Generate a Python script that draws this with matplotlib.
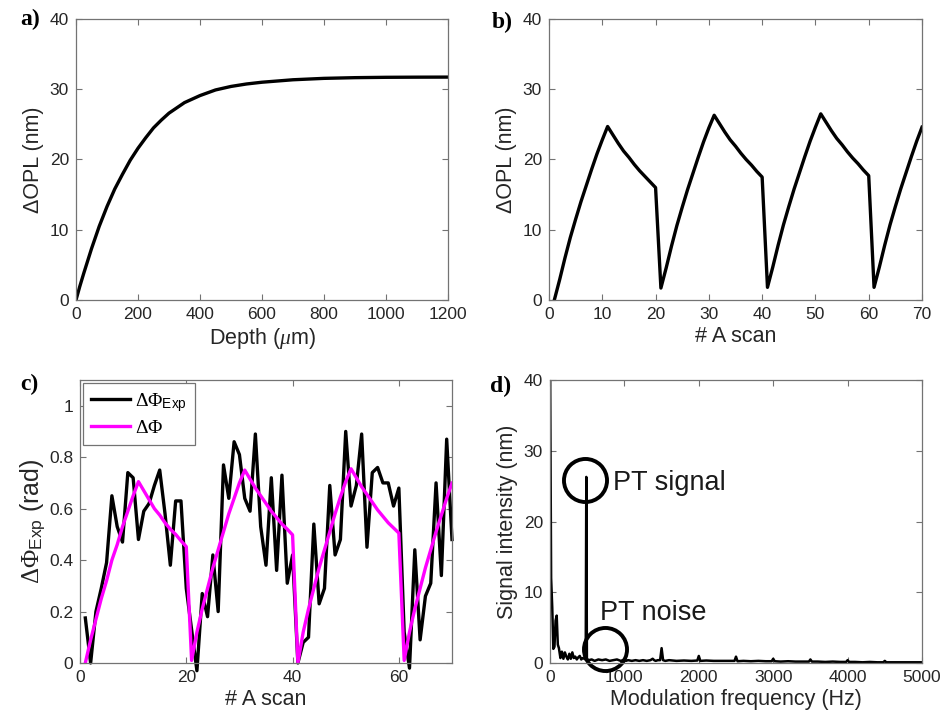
import numpy as np
import matplotlib
matplotlib.use("Agg")
from matplotlib import pyplot as plt

plt.rcParams['font.family'] = ['Liberation Sans', 'DejaVu Sans']
plt.rcParams['mathtext.fontset'] = 'custom'
plt.rcParams['mathtext.rm'] = 'Liberation Serif'
plt.rcParams['mathtext.it'] = 'Liberation Serif:italic'
plt.rcParams['mathtext.sf'] = 'Liberation Sans'

# panel a: OPL change vs depth
depth = [0, 12, 25, 50, 75, 100, 125, 150, 175, 200, 225, 250, 275, 300, 350,
         400, 450, 500, 550, 600, 700, 800, 900, 1000, 1100, 1200]
opl_depth = [0, 1.9, 3.8, 7.3, 10.5, 13.3, 15.8, 17.9, 19.9, 21.6, 23.1, 24.5,
             25.6, 26.6, 28.1, 29.1, 29.9, 30.4, 30.75, 31.0, 31.35, 31.55,
             31.65, 31.7, 31.72, 31.73]

# panel b: OPL change vs A scan
ascan = list(range(1, 71))
opl_scan = [0, 2.9, 6.0, 8.9, 11.5, 14.0, 16.3, 18.6, 20.8, 22.8,
            24.7, 23.5, 22.3, 21.2, 20.3, 19.3, 18.4, 17.6, 16.8, 16.0,
            1.7, 4.6, 7.7, 10.6, 13.2, 15.7, 18.0, 20.3, 22.5, 24.5,
            26.3, 25.1, 23.9, 22.8, 21.9, 20.9, 20.0, 19.2, 18.3, 17.5,
            1.8, 4.7, 7.8, 10.7, 13.3, 15.8, 18.1, 20.4, 22.6, 24.6,
            26.5, 25.3, 24.1, 23.0, 22.1, 21.1, 20.2, 19.4, 18.5, 17.7,
            1.8, 4.7, 7.8, 10.7, 13.3, 15.8, 18.1, 20.4, 22.6, 24.6]

# panel c: measured and modelled phase
phi_exp = [0.175, 0.0, 0.2, 0.29, 0.39, 0.65, 0.53, 0.47, 0.74, 0.72,
           0.48, 0.59, 0.62, 0.69, 0.75, 0.58, 0.38, 0.63, 0.63, 0.29,
           0.13, -0.03, 0.27, 0.18, 0.42, 0.2, 0.77, 0.64, 0.86, 0.81,
           0.64, 0.59, 0.89, 0.53, 0.38, 0.72, 0.36, 0.73, 0.31, 0.42,
           0.0, 0.08, 0.1, 0.54, 0.23, 0.29, 0.69, 0.42, 0.48, 0.9,
           0.61, 0.69, 0.89, 0.45, 0.74, 0.76, 0.70, 0.70, 0.61, 0.68,
           0.12, -0.02, 0.44, 0.09, 0.26, 0.31, 0.70, 0.34, 0.87, 0.48]
phi_model = [0, 0.09, 0.17, 0.25, 0.32, 0.40, 0.46, 0.53, 0.59, 0.65,
             0.705, 0.67, 0.635, 0.60, 0.575, 0.545, 0.52, 0.50, 0.475, 0.452,
             0.01, 0.12, 0.21, 0.29, 0.37, 0.44, 0.51, 0.58, 0.64, 0.70,
             0.75, 0.715, 0.68, 0.65, 0.62, 0.59, 0.565, 0.54, 0.52, 0.498,
             0.0, 0.12, 0.21, 0.29, 0.37, 0.44, 0.51, 0.58, 0.645, 0.705,
             0.755, 0.72, 0.685, 0.655, 0.625, 0.595, 0.57, 0.545, 0.525, 0.505,
             0.01, 0.12, 0.21, 0.29, 0.37, 0.44, 0.51, 0.575, 0.64, 0.699]

# panel d: spectrum
spec_f = [0, 15, 30, 45, 60, 75, 90, 105, 120, 140, 160, 180, 200, 220, 240,
          260, 280, 300, 320, 340, 360, 380, 400, 420, 440, 460, 480, 488, 496,
          520, 560, 600, 650, 700, 750, 800, 850, 900, 950, 980, 1000, 1020,
          1050, 1100, 1150, 1200, 1250, 1300, 1350, 1380, 1400, 1420, 1450,
          1480, 1500, 1520, 1550, 1600, 1700, 1800, 1900, 1980, 2000, 2020,
          2100, 2200, 2300, 2400, 2480, 2500, 2520, 2600, 2700, 2800, 2900,
          2980, 3000, 3020, 3100, 3200, 3300, 3400, 3480, 3500, 3520, 3600,
          3700, 3800, 3900, 3980, 4000, 4020, 4100, 4200, 4300, 4400, 4480,
          4500, 4520, 4600, 4700, 4800, 4900, 5000]
spec_a = [45, 12, 7.9, 2.0, 2.3, 6.0, 6.7, 2.6, 2.1, 0.7, 1.6, 0.6, 1.5, 0.9, 0.5,
          1.3, 0.6, 1.5, 0.7, 0.9, 0.5, 0.8, 1.0, 0.5, 0.7, 0.6, 0.5, 26.3, 0.6,
          0.4, 0.5, 0.3, 0.5, 0.4, 0.5, 0.3, 0.4, 0.5, 0.3, 0.4, 0.6, 0.3,
          0.4, 0.3, 0.4, 0.3, 0.4, 0.3, 0.4, 0.6, 0.4, 0.3, 0.4,
          0.4, 2.1, 0.4, 0.3, 0.4, 0.3, 0.35, 0.3, 0.35, 1.0, 0.3,
          0.35, 0.3, 0.3, 0.3, 0.3, 0.9, 0.25, 0.3, 0.25, 0.3, 0.25,
          0.25, 0.6, 0.25, 0.2, 0.25, 0.2, 0.2, 0.2, 0.5, 0.2, 0.2,
          0.15, 0.2, 0.15, 0.15, 0.4, 0.15, 0.15, 0.1, 0.15, 0.1, 0.1,
          0.3, 0.1, 0.1, 0.1, 0.1, 0.1, 0.1]

W, H = 943, 726
fig = plt.figure(figsize=(W / 100, H / 100), dpi=100)


def make_ax(l, r, t, b):
    ax = fig.add_axes([l / W, 1 - b / H, (r - l) / W, (b - t) / H])
    for s in ax.spines.values():
        s.set_color('0.45')
        s.set_linewidth(0.9)
    ax.tick_params(direction='in', top=True, right=True, length=4, width=0.8,
                   colors='0.45', labelcolor='0.15', labelsize=12.5, pad=5)
    return ax


lab_kw = dict(fontsize=15.5, color='0.15')

ax = make_ax(76, 448, 19, 300)
ax.plot(depth, opl_depth, color='black', lw=2.4)
ax.set_xlim(0, 1200)
ax.set_ylim(0, 40)
ax.set_xticks(range(0, 1201, 200))
ax.set_yticks(range(0, 41, 10))
ax.set_xlabel(r'Depth ($\mu$m)', labelpad=3, **lab_kw)
ax.set_ylabel('ΔOPL (nm)', labelpad=4, **lab_kw)

ax = make_ax(549, 922, 19, 300)
ax.plot(ascan, opl_scan, color='black', lw=2.4)
ax.set_xlim(0, 70)
ax.set_ylim(0, 40)
ax.set_xticks(range(0, 71, 10))
ax.set_yticks(range(0, 41, 10))
ax.set_xlabel('# A scan', labelpad=3, **lab_kw)
ax.set_ylabel('ΔOPL (nm)', labelpad=4, **lab_kw)

ax = make_ax(80, 452, 380, 663)
ax.plot(ascan, phi_exp, color='black', lw=2.4, clip_on=False,
        label=r'$\Delta\Phi_{\mathsf{Exp}}$')
ax.plot(ascan, phi_model, color='#ff00ff', lw=2.4, label=r'$\Delta\Phi$')
ax.set_xlim(0, 70)
ax.set_ylim(0, 1.1)
ax.set_xticks(range(0, 61, 20))
ax.set_yticks([0, 0.2, 0.4, 0.6, 0.8, 1])
ax.set_yticklabels(['0', '0.2', '0.4', '0.6', '0.8', '1'])
ax.set_xlabel('# A scan', labelpad=3, **lab_kw)
ax.set_ylabel(r'$\Delta\Phi_{\mathsf{Exp}}$ (rad)', labelpad=1,
              fontsize=18, color='0.15')
leg = ax.legend(loc='upper left', fontsize=14, handlelength=2.0,
                borderaxespad=0.15, fancybox=False, framealpha=1,
                borderpad=0.4, labelspacing=0.3, handletextpad=0.3)
leg.get_frame().set_edgecolor('0.45')
leg.get_frame().set_linewidth(0.9)

ax = make_ax(550, 922, 380, 663)
ax.plot(spec_f, spec_a, color='black', lw=1.8)
ax.plot([466], [25.8], 'o', ms=31, mfc='none', mec='black', mew=2.8)
ax.plot([736], [2.0], 'o', ms=31, mfc='none', mec='black', mew=2.8,
        clip_on=False)
ax.text(850, 25.5, 'PT signal', fontsize=19.5, va='center', color='0.1')
ax.text(672, 7.0, 'PT noise', fontsize=19.5, va='center', color='0.1')
ax.set_xlim(0, 5000)
ax.set_ylim(0, 40)
ax.set_xticks(range(0, 5001, 1000))
ax.set_yticks(range(0, 41, 10))
ax.set_xlabel('Modulation frequency (Hz)', labelpad=3, **lab_kw)
ax.set_ylabel('Signal intensity (nm)', labelpad=4, **lab_kw)

pkw = dict(fontsize=17, fontweight='bold', family='Liberation Serif',
           va='center', ha='left')
fig.text(20 / W, 1 - 19 / H, 'a)', **pkw)
fig.text(492 / W, 1 - 22 / H, 'b)', **pkw)
fig.text(20 / W, 1 - 384 / H, 'c)', **pkw)
fig.text(490 / W, 1 - 386 / H, 'd)', **pkw)

fig.savefig('out.png', dpi=100)
